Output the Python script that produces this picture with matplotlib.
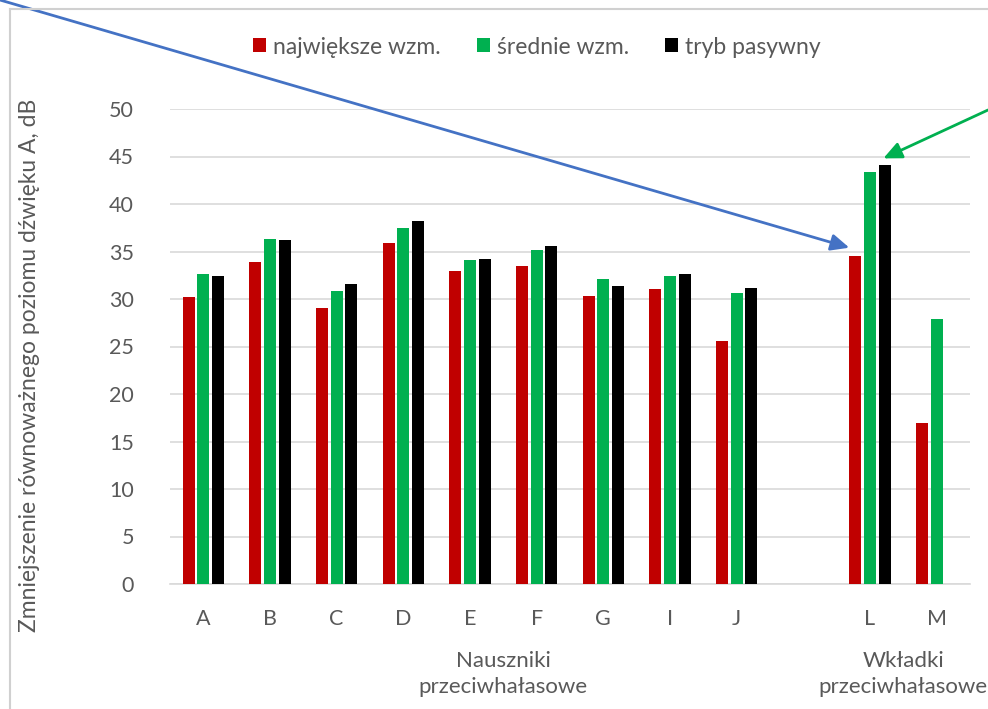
import matplotlib
matplotlib.use("Agg")
import matplotlib.pyplot as plt
import numpy as np
from matplotlib.lines import Line2D
from matplotlib.patches import Patch

plt.rcParams["font.family"] = ["Lato", "DejaVu Sans"]

# categories (empty slot separates earmuffs from earplugs)
categories = ["A", "B", "C", "D", "E", "F", "G", "I", "J", "", "L", "M"]
najwieksze = [30.2, 33.9, 29.1, 35.9, 33.0, 33.5, 30.3, 31.1, 25.6, np.nan, 34.5, 17.0]
srednie = [32.6, 36.3, 30.8, 37.5, 34.1, 35.2, 32.1, 32.4, 30.6, np.nan, 43.4, 27.9]
pasywny = [32.4, 36.2, 31.6, 38.2, 34.2, 35.6, 31.4, 32.6, 31.2, np.nan, 44.1, np.nan]
series_names = ["największe wzm.", "średnie wzm.", "tryb pasywny"]
colors = ["#C00000", "#00B050", "#000000"]
groups = [("Nauszniki\nprzeciwhałasowe", 0, 9), ("Wkładki\nprzeciwhałasowe", 10, 11)]

text_col = "#595959"
grid_col = "#D9D9D9"

fig = plt.figure(figsize=(9.88, 7.09), dpi=100)
ax = fig.add_axes([170 / 988, 125 / 709, 800 / 988, 475 / 709])

x = np.arange(len(categories))
w = 0.18
step = 0.22
for i, (vals, col) in enumerate(zip([najwieksze, srednie, pasywny], colors)):
    ax.bar(x + (i - 1) * step, vals, width=w, color=col, zorder=3)

ax.set_xlim(-0.5, len(categories) - 0.5)
ax.set_ylim(0, 50)
ax.set_yticks(np.arange(0, 51, 5))
ax.set_xticks(x)
ax.set_xticklabels(categories)
ax.grid(axis="y", color=grid_col, linewidth=1.2, zorder=0)
for s in ["top", "right", "left"]:
    ax.spines[s].set_visible(False)
ax.spines["bottom"].set_color(grid_col)
ax.spines["bottom"].set_linewidth(1.2)
ax.tick_params(axis="both", length=0, labelsize=15.5, labelcolor=text_col)
ax.tick_params(axis="x", pad=18)
ax.tick_params(axis="y", pad=26)

fig.text(30 / 988, 1 - 365 / 709, "Zmniejszenie równoważnego poziomu dźwięku A, dB",
         rotation=90, ha="center", va="center", fontsize=16.5, color=text_col)

# multi-level group labels
trans = ax.get_xaxis_transform()
for label, first, last in groups:
    ax.text((first + last) / 2, -0.19, label, transform=trans, ha="center", va="center",
            fontsize=16, color=text_col, linespacing=1.35, clip_on=False)

# legend
handles = [Patch(facecolor=c) for c in colors]
fig.legend(handles, series_names, loc="center", bbox_to_anchor=(537 / 988, 1 - 47 / 709),
           ncol=3, frameon=False, fontsize=16.5, labelcolor=text_col,
           handlelength=0.55, handleheight=0.55, handletextpad=0.3, columnspacing=1.6)

# chart area border (cropped screenshot)
fig.add_artist(Line2D([10 / 988, 10 / 988], [0, 1 - 9 / 709], transform=fig.transFigure,
                      color="#D0D0D0", linewidth=1.5))
fig.add_artist(Line2D([10 / 988, 1], [1 - 9 / 709, 1 - 9 / 709], transform=fig.transFigure,
                      color="#D0D0D0", linewidth=1.5))

# arrows pointing at the L bars
L = categories.index("L")
arrow = "-|>,head_length=1.1,head_width=0.5"
ax.annotate("", xy=(L - step - w / 2, najwieksze[L] + 0.9), xycoords="data",
            xytext=(0.0, 1.0), textcoords="figure fraction",
            arrowprops=dict(arrowstyle=arrow, color="#4472C4", lw=2,
                            shrinkA=0, shrinkB=0), annotation_clip=False)
ax.annotate("", xy=(L + step - 0.02, pasywny[L] + 0.7), xycoords="data",
            xytext=(1.0, 1 - 110 / 709), textcoords="figure fraction",
            arrowprops=dict(arrowstyle=arrow, color="#00B050", lw=2,
                            shrinkA=0, shrinkB=0), annotation_clip=False)

fig.savefig("out.png", dpi=100)
